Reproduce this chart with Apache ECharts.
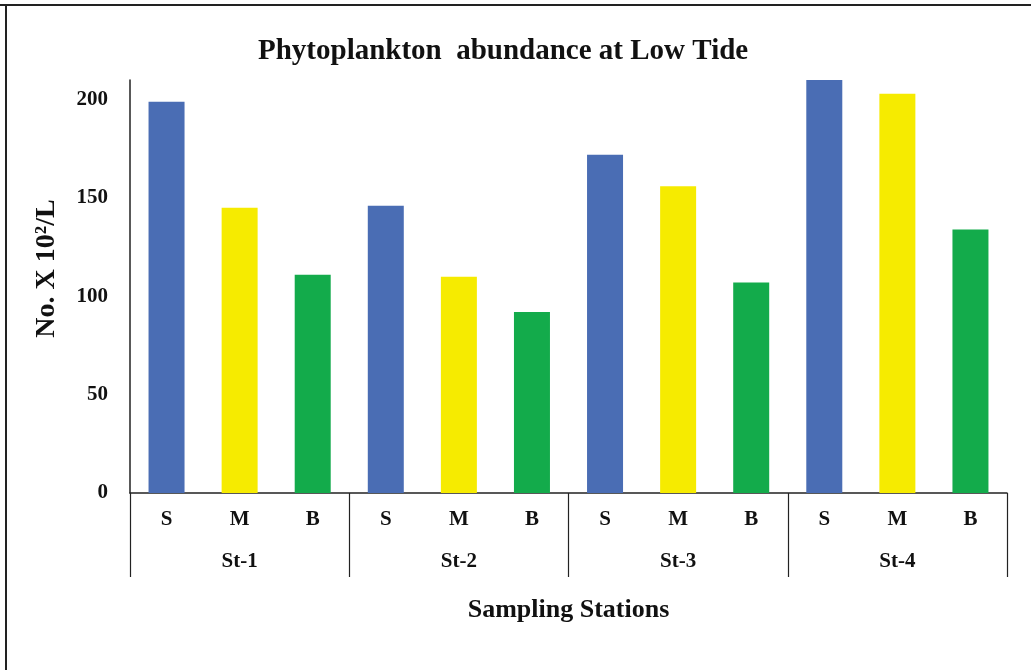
<!DOCTYPE html>
<html>
<head>
<meta charset="utf-8">
<script src="https://cdn.jsdelivr.net/npm/echarts@6/dist/echarts.min.js"></script>
<style>
html,body{margin:0;padding:0;background:#fff;}
#chart{width:1031px;height:670px;}
</style>
</head>
<body>
<div id="chart"></div>
<script>
const stations = ['St-1', 'St-2', 'St-3', 'St-4'];
const sites = ['S', 'M', 'B'];
const surfaceValues = [199, 146, 172, 210];
const middleValues = [145, 110, 156, 203];
const bottomValues = [111, 92, 107, 134];
const siteColors = ['#4A6DB4', '#F6EB00', '#13AB4B'];
const yTickLabels = [0, 50, 100, 150, 200];

const siteSeries = [surfaceValues, middleValues, bottomValues];
const categories = [];
const barData = [];
stations.forEach(function (st, i) {
  sites.forEach(function (s, j) {
    categories.push(st + '|' + s);
    barData.push({ value: siteSeries[j][i], itemStyle: { color: siteColors[j] } });
  });
});

const font = 'Liberation Serif';
const chart = echarts.init(document.getElementById('chart'));
chart.setOption({
  animation: false,
  backgroundColor: '#fff',
  title: {
    text: 'Phytoplankton  abundance at Low Tide',
    left: 253,
    top: 32,
    textStyle: { fontFamily: font, fontWeight: 'bold', fontSize: 29, color: '#111' }
  },
  graphic: [
    { type: 'line', shape: { x1: 0, y1: 5, x2: 1031, y2: 5 }, style: { stroke: '#222', lineWidth: 2 } },
    { type: 'line', shape: { x1: 6, y1: 5, x2: 6, y2: 670 }, style: { stroke: '#222', lineWidth: 2 } }
  ],
  grid: { left: 130, right: 24, top: 80, bottom: 177, containLabel: false },
  xAxis: [
    {
      type: 'category',
      data: categories,
      position: 'bottom',
      axisLine: { show: true, lineStyle: { color: '#222', width: 1.5 } },
      axisTick: { show: false },
      axisLabel: {
        formatter: function (v) { return v.split('|')[1]; },
        fontFamily: font, fontWeight: 'bold', fontSize: 21, color: '#111', margin: 16
      }
    },
    {
      type: 'category',
      data: stations,
      position: 'bottom',
      axisLine: { show: false },
      axisTick: { show: true, length: 84, lineStyle: { color: '#222', width: 1.2 } },
      axisLabel: { fontFamily: font, fontWeight: 'bold', fontSize: 21, color: '#111', margin: 58 },
      name: 'Sampling Stations',
      nameLocation: 'middle',
      nameGap: 104,
      nameTextStyle: { fontFamily: font, fontWeight: 'bold', fontSize: 26, color: '#111' }
    }
  ],
  yAxis: {
    type: 'value',
    min: 0,
    max: 210,
    interval: 50,
    axisLine: { show: true, lineStyle: { color: '#222', width: 1.5 } },
    axisTick: { show: false },
    splitLine: { show: false },
    axisLabel: {
      formatter: function (v) { return yTickLabels.indexOf(v) >= 0 ? String(v) : ''; },
      fontFamily: font, fontWeight: 'bold', fontSize: 21, color: '#111', margin: 22
    },
    name: 'No. X 10²/L',
    nameLocation: 'middle',
    nameRotate: 90,
    nameGap: 69,
    nameTextStyle: { fontFamily: font, fontWeight: 'bold', fontSize: 28, color: '#111', padding: [0, 0, 0, 36] }
  },
  series: [{
    type: 'bar',
    xAxisIndex: 0,
    data: barData,
    barWidth: 36
  }]
});
</script>
</body>
</html>
